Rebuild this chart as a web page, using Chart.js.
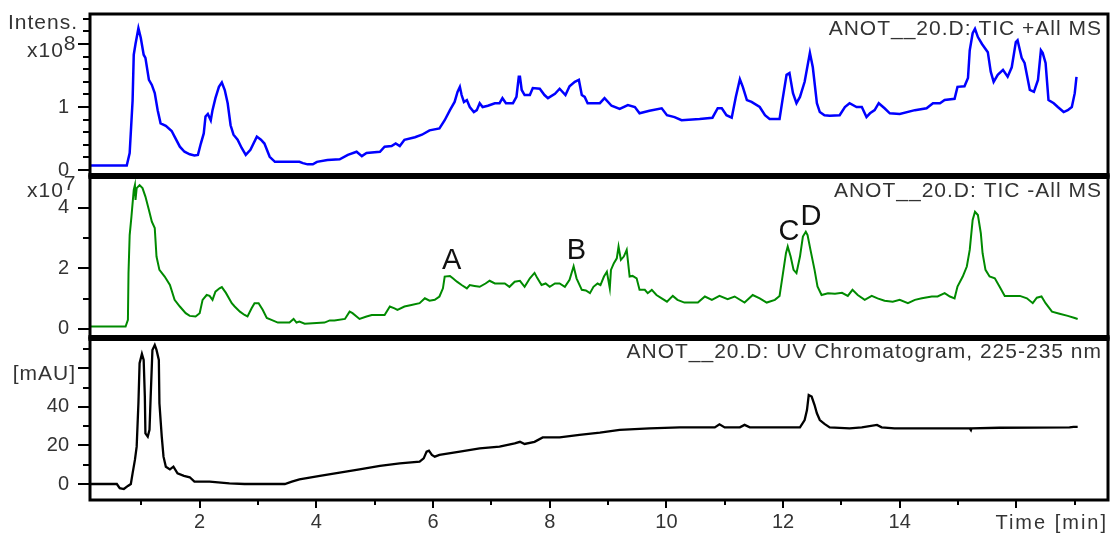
<!DOCTYPE html>
<html>
<head>
<meta charset="utf-8">
<title>ANOT__20.D</title>
<script src="https://cdn.jsdelivr.net/npm/chart.js@4.4.1/dist/chart.umd.min.js"></script>
<style>
  html, body { margin: 0; padding: 0; background: #fff; }
  #chrom { display: block; }
</style>
</head>
<body>
<canvas id="chrom" width="1112" height="534"></canvas>
<script>
// TIC +All MS (intensity x10^8)
const posTime = [0.11, 0.75, 0.80, 0.85, 0.87, 0.90, 0.95, 0.99, 1.04, 1.07, 1.13, 1.18, 1.23, 1.28, 1.33, 1.42, 1.52, 1.57, 1.66, 1.74,
  1.83, 1.91, 1.97, 2.02, 2.07, 2.10, 2.14, 2.19, 2.22, 2.27, 2.33, 2.38, 2.43, 2.48, 2.53, 2.58, 2.65, 2.72, 2.79, 2.87,
  2.98, 3.05, 3.11, 3.20, 3.29, 3.46, 3.71, 3.77, 3.85, 3.94, 4.01, 4.19, 4.40, 4.54, 4.69, 4.78, 4.86, 5.09, 5.17, 5.29,
  5.36, 5.43, 5.51, 5.69, 5.81, 5.94, 6.11, 6.20, 6.29, 6.37, 6.42, 6.46, 6.49, 6.53, 6.58, 6.63, 6.70, 6.75, 6.80, 6.85,
  6.94, 7.06, 7.14, 7.19, 7.25, 7.37, 7.43, 7.47, 7.49, 7.52, 7.57, 7.66, 7.71, 7.83, 7.91, 7.97, 8.09, 8.17, 8.27, 8.34,
  8.43, 8.50, 8.55, 8.60, 8.65, 8.86, 8.94, 9.06, 9.20, 9.34, 9.46, 9.54, 9.71, 9.92, 10.01, 10.14, 10.26, 10.57, 10.79, 10.88,
  10.95, 11.03, 11.12, 11.19, 11.26, 11.31, 11.38, 11.46, 11.60, 11.69, 11.77, 11.94, 11.99, 12.06, 12.11, 12.17, 12.23, 12.29, 12.37, 12.46,
  12.51, 12.58, 12.63, 12.71, 12.80, 12.97, 13.06, 13.14, 13.26, 13.35, 13.43, 13.49, 13.57, 13.64, 13.74, 13.83, 14.00, 14.26, 14.46, 14.57,
  14.69, 14.77, 14.94, 14.99, 15.11, 15.17, 15.20, 15.25, 15.29, 15.34, 15.41, 15.51, 15.56, 15.61, 15.68, 15.77, 15.85, 15.92, 15.99, 16.02,
  16.09, 16.14, 16.23, 16.30, 16.37, 16.42, 16.45, 16.50, 16.55, 16.64, 16.71, 16.81, 16.88, 16.95, 17.00, 17.03];
const posIntens = [0.07, 0.07, 0.27, 1.10, 1.83, 2.00, 2.25, 2.10, 1.83, 1.78, 1.43, 1.35, 1.22, 0.95, 0.74, 0.70, 0.62, 0.53, 0.37, 0.29,
  0.25, 0.23, 0.24, 0.42, 0.58, 0.85, 0.89, 0.79, 0.95, 1.14, 1.32, 1.39, 1.27, 1.06, 0.71, 0.56, 0.48, 0.35, 0.24, 0.32,
  0.53, 0.48, 0.42, 0.21, 0.13, 0.13, 0.13, 0.11, 0.09, 0.09, 0.13, 0.16, 0.17, 0.24, 0.29, 0.22, 0.27, 0.29, 0.37, 0.38,
  0.42, 0.38, 0.48, 0.52, 0.56, 0.63, 0.66, 0.79, 0.95, 1.08, 1.24, 1.32, 1.19, 1.08, 1.11, 1.00, 0.92, 0.95, 1.06, 1.00,
  1.02, 1.06, 1.06, 1.14, 1.06, 1.06, 1.16, 1.48, 1.48, 1.27, 1.19, 1.19, 1.30, 1.29, 1.19, 1.14, 1.21, 1.29, 1.19, 1.33,
  1.40, 1.43, 1.19, 1.16, 1.06, 1.06, 1.14, 1.02, 0.97, 1.03, 1.00, 0.90, 0.94, 0.98, 0.87, 0.84, 0.79, 0.81, 0.83, 0.98,
  0.98, 0.87, 0.83, 1.16, 1.44, 1.32, 1.11, 1.08, 1.00, 0.87, 0.81, 0.81, 1.11, 1.51, 1.54, 1.22, 1.06, 1.16, 1.40, 1.86,
  1.63, 1.06, 0.92, 0.87, 0.86, 0.87, 1.00, 1.06, 1.00, 1.00, 0.84, 0.90, 0.95, 1.06, 0.98, 0.90, 0.89, 0.95, 0.98, 1.06,
  1.06, 1.11, 1.13, 1.32, 1.33, 1.46, 1.90, 2.17, 2.24, 2.11, 2.00, 1.87, 1.56, 1.40, 1.51, 1.59, 1.48, 1.63, 2.03, 2.06,
  1.78, 1.70, 1.27, 1.24, 1.43, 1.90, 1.86, 1.70, 1.11, 1.06, 1.00, 0.92, 0.95, 1.00, 1.22, 1.48];

// TIC -All MS (intensity x10^7)
const negTime = [0.11, 0.73, 0.77, 0.78, 0.80, 0.83, 0.87, 0.89, 0.90, 0.92, 0.97, 1.02, 1.07, 1.13, 1.18, 1.23, 1.26, 1.31, 1.40, 1.49,
  1.57, 1.66, 1.76, 1.83, 1.93, 2.00, 2.05, 2.12, 2.17, 2.22, 2.27, 2.34, 2.38, 2.45, 2.55, 2.60, 2.69, 2.77, 2.82, 2.89,
  2.94, 3.01, 3.08, 3.15, 3.23, 3.34, 3.54, 3.61, 3.66, 3.71, 3.80, 4.14, 4.23, 4.31, 4.49, 4.57, 4.62, 4.74, 4.86, 4.95,
  5.17, 5.26, 5.34, 5.39, 5.51, 5.63, 5.77, 5.86, 5.94, 6.03, 6.11, 6.17, 6.20, 6.29, 6.34, 6.41, 6.49, 6.58, 6.63, 6.71,
  6.80, 6.90, 6.97, 7.06, 7.23, 7.31, 7.40, 7.49, 7.57, 7.66, 7.74, 7.79, 7.86, 7.93, 8.00, 8.09, 8.17, 8.26, 8.34, 8.41,
  8.46, 8.55, 8.62, 8.69, 8.75, 8.82, 8.87, 8.93, 8.98, 9.03, 9.05, 9.10, 9.15, 9.18, 9.22, 9.27, 9.32, 9.37, 9.42, 9.49,
  9.54, 9.63, 9.68, 9.75, 9.83, 9.92, 10.01, 10.11, 10.19, 10.31, 10.37, 10.54, 10.66, 10.78, 10.91, 11.05, 11.17, 11.34, 11.48, 11.60,
  11.72, 11.86, 11.94, 11.99, 12.05, 12.08, 12.13, 12.18, 12.23, 12.29, 12.34, 12.39, 12.42, 12.47, 12.54, 12.59, 12.66, 12.77, 12.89, 13.01,
  13.11, 13.19, 13.28, 13.40, 13.52, 13.62, 13.74, 13.88, 14.00, 14.14, 14.26, 14.38, 14.55, 14.65, 14.77, 14.86, 14.94, 14.99, 15.08, 15.15,
  15.20, 15.25, 15.29, 15.34, 15.39, 15.42, 15.47, 15.54, 15.63, 15.71, 15.80, 15.94, 16.06, 16.18, 16.28, 16.35, 16.43, 16.50, 16.61, 16.74,
  16.88, 17.00, 17.05];
const negIntens = [0.08, 0.08, 0.30, 1.85, 3.10, 3.70, 4.59, 4.75, 4.26, 4.65, 4.75, 4.65, 4.37, 3.93, 3.54, 3.33, 2.39, 1.95, 1.73, 1.45,
  0.96, 0.74, 0.52, 0.43, 0.41, 0.52, 0.96, 1.12, 1.09, 0.96, 1.23, 1.34, 1.38, 1.19, 0.85, 0.74, 0.57, 0.46, 0.41, 0.68,
  0.85, 0.85, 0.63, 0.36, 0.30, 0.21, 0.21, 0.33, 0.21, 0.24, 0.17, 0.21, 0.28, 0.28, 0.33, 0.57, 0.52, 0.33, 0.41, 0.46,
  0.46, 0.74, 0.68, 0.63, 0.74, 0.79, 0.85, 1.01, 0.93, 0.96, 1.07, 1.34, 1.73, 1.75, 1.67, 1.56, 1.45, 1.34, 1.45, 1.42,
  1.39, 1.50, 1.59, 1.50, 1.50, 1.39, 1.56, 1.59, 1.39, 1.67, 1.85, 1.67, 1.45, 1.50, 1.39, 1.50, 1.50, 1.39, 1.62, 2.07,
  1.67, 1.29, 1.27, 1.18, 1.39, 1.50, 1.45, 1.73, 1.89, 1.34, 1.95, 2.17, 2.33, 2.72, 2.28, 2.39, 2.61, 1.73, 1.75, 1.67,
  1.29, 1.29, 1.18, 1.29, 1.12, 1.01, 0.90, 1.09, 0.96, 0.87, 0.87, 0.87, 1.07, 0.96, 1.09, 0.98, 1.07, 0.87, 1.12, 1.01,
  0.87, 0.96, 1.09, 1.73, 2.50, 2.72, 2.39, 1.95, 1.84, 2.39, 3.05, 3.21, 3.10, 2.61, 1.95, 1.40, 1.12, 1.18, 1.16, 1.19,
  1.09, 1.29, 1.12, 0.96, 1.09, 1.01, 0.93, 0.90, 0.96, 0.85, 0.96, 1.01, 1.07, 1.07, 1.18, 1.07, 1.01, 1.40, 1.73, 2.06,
  2.61, 3.60, 3.87, 3.76, 3.16, 2.50, 1.95, 1.73, 1.67, 1.40, 1.09, 1.09, 1.09, 1.01, 0.85, 1.03, 1.07, 0.85, 0.57, 0.50,
  0.43, 0.36, 0.33];

// UV Chromatogram, 225-235 nm (mAU)
const uvTime = [0.11, 0.58, 0.63, 0.70, 0.77, 0.82, 0.85, 0.89, 0.92, 0.95, 0.97, 1.01, 1.04, 1.06, 1.07, 1.11, 1.14, 1.16, 1.19, 1.23,
  1.26, 1.30, 1.31, 1.35, 1.38, 1.42, 1.49, 1.55, 1.62, 1.73, 1.83, 1.91, 2.17, 2.51, 2.77, 3.46, 3.58, 3.71, 4.06, 4.40,
  4.74, 5.09, 5.43, 5.77, 5.84, 5.89, 5.93, 5.98, 6.03, 6.11, 6.46, 6.80, 7.14, 7.40, 7.49, 7.57, 7.74, 7.88, 8.17, 8.51,
  8.86, 9.20, 9.71, 10.23, 10.83, 10.91, 11.00, 11.26, 11.34, 11.43, 12.29, 12.37, 12.41, 12.44, 12.49, 12.54, 12.58, 12.63, 12.71, 12.80,
  13.14, 13.35, 13.61, 13.69, 13.91, 15.20, 15.22, 15.23, 15.71, 16.91, 16.98, 17.05];
const uvAbs = [0, 0, -2.2, -2.6, -1.0, 0, 5.5, 12.5, 19.4, 41.9, 62.7, 67.5, 64.4, 45.4, 26.3, 24.6, 28.1, 45.4, 69.6, 72.2,
  69.6, 64.4, 41.9, 24.6, 14.2, 9.0, 7.6, 9.0, 5.5, 4.2, 3.5, 1.2, 1.2, 0.3, 0, 0, 1.2, 2.4, 4.2, 5.9,
  7.6, 9.4, 10.7, 11.6, 13.3, 16.8, 17.3, 15.1, 14.2, 15.1, 16.8, 18.5, 19.4, 21.1, 21.9, 20.8, 21.9, 24.2, 24.2, 25.5,
  26.7, 28.1, 28.9, 29.4, 29.4, 31.0, 29.4, 29.4, 30.7, 29.4, 29.4, 33.2, 38.4, 46.2, 45.4, 41.0, 36.7, 33.2, 31.2, 29.4,
  28.9, 29.4, 30.7, 29.4, 28.9, 28.9, 28.0, 28.9, 29.2, 29.4, 29.7, 29.7];

// peak letters in the TIC -All MS trace
const peakNames = ['A', 'B', 'C', 'D'];
const peakTimes = [6.32, 8.46, 12.10, 12.48];
const peakHeights = [1.75, 2.07, 2.72, 3.21];

// tick values
const timeMajor = [2, 4, 6, 8, 10, 12, 14, 16];
const timeMinor = [1, 3, 5, 7, 9, 11, 13, 15, 17];
const posMajor = [0, 1, 2];
const posMinor = [0.2, 0.4, 0.6, 0.8, 1.2, 1.4, 1.6, 1.8, 2.2, 2.4];
const negMajor = [0, 2, 4];
const negMinor = [1, 3];
const uvMajor = [0, 20, 40, 60];
const uvMinor = [10, 30, 50, 70];

const FONT = '"Liberation Sans", Arial, sans-serif';
const TEXT = '#333';

const xy = (ts, vs) => ts.map((t, i) => ({ x: t, y: vs[i] }));

function yAxis(min, max, step, weight, hide) {
  return {
    type: 'linear', position: 'left', stack: 'traces', stackWeight: 1, weight: weight,
    min: min, max: max,
    grid: { display: false, drawTicks: false }, border: { display: false },
    ticks: {
      stepSize: step, includeBounds: false, padding: 21, color: TEXT,
      font: { family: FONT, size: 20 },
      callback: v => (v === hide ? '' : String(v))
    },
    afterFit: s => { s.width = 90; s.paddingTop = 0; s.paddingBottom = 0; }
  };
}

// frames, tick marks and text around the three traces
const decorations = {
  id: 'decorations',
  afterDraw(chart) {
    const ctx = chart.ctx;
    const a = chart.chartArea;
    const sx = chart.scales.x;
    const yPos = chart.scales.yPos, yNeg = chart.scales.yNeg, yUV = chart.scales.yUV;
    ctx.save();
    ctx.strokeStyle = '#000';
    ctx.lineWidth = 3;
    [yPos, yNeg, yUV].forEach(s => ctx.strokeRect(a.left, s.top, a.right - a.left, s.bottom - s.top));
    ctx.lineWidth = 6;
    [yPos.bottom, yNeg.bottom].forEach(y => {
      ctx.beginPath(); ctx.moveTo(a.left - 1.5, y); ctx.lineTo(a.right + 1.5, y); ctx.stroke();
    });

    ctx.lineWidth = 2;
    const yTicks = [[yPos, posMajor, posMinor], [yNeg, negMajor, negMinor], [yUV, uvMajor, uvMinor]];
    yTicks.forEach(([s, major, minor]) => {
      major.forEach(v => { const y = Math.round(s.getPixelForValue(v)); ctx.beginPath(); ctx.moveTo(a.left - 12, y); ctx.lineTo(a.left, y); ctx.stroke(); });
      minor.forEach(v => { const y = Math.round(s.getPixelForValue(v)); ctx.beginPath(); ctx.moveTo(a.left - 7, y); ctx.lineTo(a.left, y); ctx.stroke(); });
    });
    timeMajor.forEach(v => { const x = Math.round(sx.getPixelForValue(v)); ctx.beginPath(); ctx.moveTo(x, a.bottom); ctx.lineTo(x, a.bottom + 8); ctx.stroke(); });
    timeMinor.forEach(v => { const x = Math.round(sx.getPixelForValue(v)); ctx.beginPath(); ctx.moveTo(x, a.bottom); ctx.lineTo(x, a.bottom + 5); ctx.stroke(); });

    ctx.fillStyle = TEXT;
    ctx.textBaseline = 'alphabetic';
    ctx.letterSpacing = '1px';
    ctx.font = '21px ' + FONT;
    ctx.textAlign = 'right';
    ctx.fillText('ANOT__20.D: TIC +All MS', a.right - 6, yPos.top + 21);
    ctx.fillText('ANOT__20.D: TIC -All MS', a.right - 6, yNeg.top + 21);
    ctx.fillText('ANOT__20.D: UV Chromatogram, 225-235 nm', a.right - 6, yUV.top + 20);

    ctx.textAlign = 'left';
    ctx.fillText('Intens.', 8, yPos.top + 15);
    const power = (base, exp, x, y) => {
      ctx.fillText(base, x, y);
      ctx.fillText(exp, x + ctx.measureText(base).width, y - 7);
    };
    power('x10', '8', 27, yPos.top + 43);
    power('x10', '7', 27, yNeg.top + 21);
    ctx.textAlign = 'right';
    ctx.fillText('[mAU]', 76, yUV.top + 42);

    ctx.font = '20px ' + FONT;
    ctx.letterSpacing = '2px';
    ctx.fillText('Time [min]', a.right, a.bottom + 29);

    ctx.letterSpacing = '0px';
    ctx.font = '29px ' + FONT;
    ctx.textAlign = 'center';
    ctx.fillStyle = '#111';
    peakNames.forEach((n, i) => {
      ctx.fillText(n, sx.getPixelForValue(peakTimes[i]), yNeg.getPixelForValue(peakHeights[i]) - 7);
    });
    ctx.restore();
  }
};

new Chart(document.getElementById('chrom'), {
  type: 'line',
  data: {
    datasets: [
      { label: 'TIC +All MS', data: xy(posTime, posIntens), yAxisID: 'yPos', borderColor: '#0000ff', borderWidth: 2.5 },
      { label: 'TIC -All MS', data: xy(negTime, negIntens), yAxisID: 'yNeg', borderColor: '#008a00', borderWidth: 2 },
      { label: 'UV 225-235 nm', data: xy(uvTime, uvAbs), yAxisID: 'yUV', borderColor: '#000000', borderWidth: 2.3 }
    ]
  },
  options: {
    responsive: false,
    animation: false,
    parsing: false,
    datasets: { line: { pointRadius: 0, tension: 0, fill: false } },
    layout: { padding: { top: 14, right: 4, left: 0, bottom: 0 } },
    plugins: { legend: { display: false }, tooltip: { enabled: false } },
    scales: {
      x: {
        type: 'linear', min: 0.12, max: 17.57,
        grid: { display: false, drawTicks: false }, border: { display: false },
        ticks: {
          stepSize: 2, includeBounds: false, autoSkip: false, maxRotation: 0, padding: 10, color: TEXT,
          font: { family: FONT, size: 20 },
          callback: v => (v === 16 ? '' : String(v))
        },
        afterFit: s => { s.height = 34; s.paddingLeft = 0; s.paddingRight = 0; }
      },
      yUV: yAxis(-8.3, 75.8, 20, 1, 60),
      yNeg: yAxis(-0.30, 5.05, 2, 2, null),
      yPos: yAxis(-0.095, 2.476, 1, 3, 2)
    }
  },
  plugins: [decorations]
});
</script>
</body>
</html>
